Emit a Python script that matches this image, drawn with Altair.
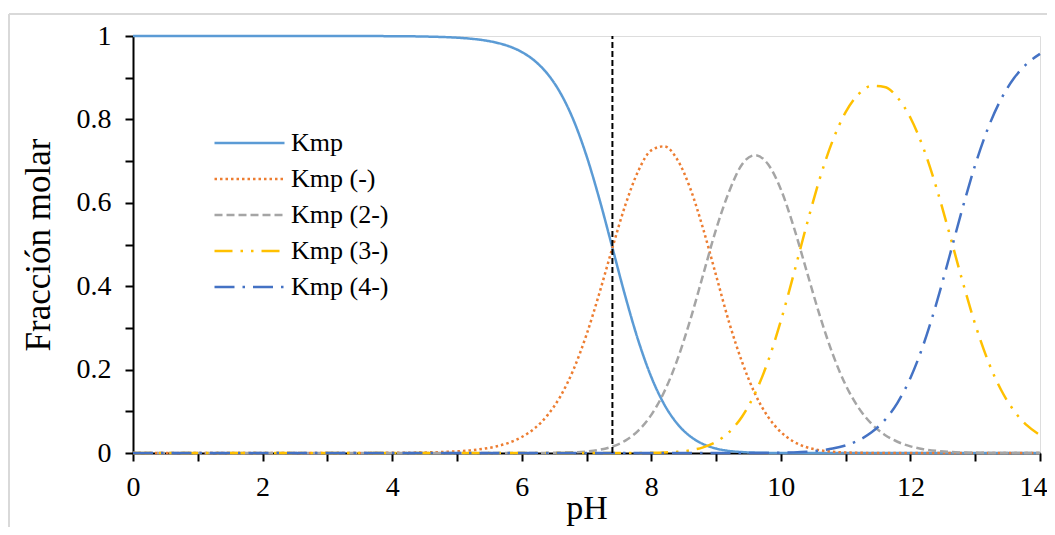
import altair as alt
import pandas as pd

# ---- data ----
ph = [0, 1, 2, 3, 4, 4.5,
      5.0, 5.2, 5.4, 5.6, 5.8, 6.0, 6.2, 6.4, 6.6, 6.8,
      7.0, 7.2, 7.4, 7.6, 7.8, 8.0, 8.2, 8.4, 8.6, 8.8,
      9.0, 9.2, 9.4, 9.6, 9.8, 10.0, 10.2, 10.4, 10.6, 10.8,
      11.0, 11.2, 11.4, 11.6, 11.8, 12.0, 12.2, 12.4, 12.6, 12.8,
      13.0, 13.2, 13.4, 13.6, 13.8, 14.0]

kmp = [1.0, 1.0, 1.0, 1.0, 0.9996, 0.9987,
       0.9960, 0.9937, 0.9901, 0.9844, 0.9755, 0.9617, 0.9405, 0.9088, 0.8626, 0.7980,
       0.7127, 0.6084, 0.4922, 0.3753, 0.2694, 0.1823, 0.1166, 0.0704, 0.0401, 0.0214,
       0.0107, 0.0050, 0.0022, 0.0009, 0.0003, 0.0001, 0, 0, 0, 0,
       0, 0, 0, 0, 0, 0, 0, 0, 0, 0,
       0, 0, 0, 0, 0, 0]

kmp_1 = [0, 0, 0, 0, 0.0004, 0.0013,
         0.0040, 0.0063, 0.0099, 0.0156, 0.0245, 0.0383, 0.0593, 0.0909, 0.1367, 0.2004,
         0.2837, 0.3839, 0.4922, 0.5948, 0.6767, 0.7258, 0.7355, 0.7041, 0.6352, 0.5379,
         0.4260, 0.3139, 0.2188, 0.1425, 0.0872, 0.0502, 0.0271, 0.0138, 0.0066, 0.0030,
         0.0013, 0.0005, 0.0002, 0.0001, 0, 0, 0, 0, 0, 0,
         0, 0, 0, 0, 0, 0]

kmp_2 = [0, 0, 0, 0, 0, 0,
         0, 0, 0, 0, 0, 0.0000, 0.0001, 0.0003, 0.0007, 0.0016,
         0.0036, 0.0077, 0.0156, 0.0298, 0.0538, 0.0914, 0.1468, 0.2227, 0.3184, 0.4272,
         0.5364, 0.6264, 0.6919, 0.7141, 0.6930, 0.6322, 0.5414, 0.4354, 0.3299, 0.2373,
         0.1631, 0.1083, 0.0699, 0.0440, 0.0270, 0.0160, 0.0092, 0.0051, 0.0026, 0.0013,
         0.0006, 0.0003, 0.0001, 0, 0, 0]

kmp_3 = [0, 0, 0, 0, 0, 0,
         0, 0, 0, 0, 0, 0, 0, 0, 0, 0,
         0, 0, 0, 0.0001, 0.0002, 0.0005, 0.0012, 0.0028, 0.0064, 0.0135,
         0.0269, 0.0498, 0.0871, 0.1425, 0.2191, 0.3168, 0.4300, 0.5479, 0.6576, 0.7491,
         0.8173, 0.8606, 0.8803, 0.8777, 0.8526, 0.8040, 0.7313, 0.6368, 0.5274, 0.4140,
         0.3086, 0.2198, 0.1510, 0.1009, 0.0661, 0.0428]

kmp_4 = [0, 0, 0, 0, 0, 0,
         0, 0, 0, 0, 0, 0, 0, 0, 0, 0,
         0, 0, 0, 0, 0, 0, 0, 0, 0, 0,
         0, 0, 0, 0.0001, 0.0003, 0.0007, 0.0015, 0.0031, 0.0059, 0.0106,
         0.0183, 0.0305, 0.0495, 0.0782, 0.1204, 0.1800, 0.2595, 0.3581, 0.4700, 0.5847,
         0.6908, 0.7799, 0.8489, 0.8991, 0.9339, 0.9572]

series_names = ["Kmp", "Kmp (-)", "Kmp (2-)", "Kmp (3-)", "Kmp (4-)"]
series_values = [kmp, kmp_1, kmp_2, kmp_3, kmp_4]
series_colors = ["#5B9BD5", "#ED7D31", "#A5A5A5", "#FFC000", "#4472C4"]
series_dashes = [[1, 0], [2.5, 3], [8, 4], [18, 8, 2.5, 8, 2.5, 8], [20, 8, 2.5, 8]]

ref_ph = [7.4]          # vertical dashed reference line
x_ticks = list(range(0, 15))
y_ticks = [0, 0.1, 0.2, 0.3, 0.4, 0.5, 0.6, 0.7, 0.8, 0.9, 1.0]

# ---- build long table ----
rows = []
for name, vals in zip(series_names, series_values):
    for i, (x, v) in enumerate(zip(ph, vals)):
        rows.append({"pH": x, "frac": v, "serie": name, "idx": i})
df = pd.DataFrame(rows)
ref_df = pd.DataFrame({"pH": ref_ph, "y0": [0.0], "y1": [1.0]})

FONT = "Liberation Serif"

legend_cfg = alt.Legend(
    title=None, orient="none", legendX=80, legendY=90,
    symbolType="stroke", symbolSize=4900, symbolStrokeWidth=2.5,
    clipHeight=34, rowPadding=2, labelOffset=5,
    labelFont=FONT, labelFontSize=26, labelColor="black", labelLimit=0,
)

x_enc = alt.X("pH:Q", title="pH",
              scale=alt.Scale(domain=[0, 14], nice=False, zero=False),
              axis=alt.Axis(values=x_ticks, format="d",
                            labelExpr="datum.value % 2 == 0 ? datum.label : ''",
                            labelFlush=False,
                            labelAlign={"condition": {"test": "datum.value >= 14", "value": "right"},
                                        "value": "center"},
                            labelOffset={"condition": {"test": "datum.value >= 14", "value": 7},
                                         "value": 0},
                            grid=False, labelFont=FONT, labelFontSize=28,
                            labelColor="black", labelPadding=12,
                            domainColor="black", domainWidth=2,
                            tickColor="black", tickWidth=2, tickSize=8,
                            titleFont=FONT, titleFontSize=34, titleFontWeight="normal",
                            titleColor="black", titlePadding=-10))
y_enc = alt.Y("frac:Q", title="Fracción molar",
              scale=alt.Scale(domain=[0, 1], nice=False),
              axis=alt.Axis(values=y_ticks, format="~g",
                            labelExpr="round(datum.value * 10) % 2 == 0 ? datum.label : ''",
                            labelFlush=False,
                            grid=False, labelFont=FONT, labelFontSize=28,
                            labelColor="black", labelPadding=14,
                            domainColor="black", domainWidth=2,
                            tickColor="black", tickWidth=2, tickSize=8,
                            titleFont=FONT, titleFontSize=35, titleFontWeight="normal",
                            titleColor="black", titlePadding=20))

lines = alt.Chart(df).mark_line(strokeWidth=2.5, interpolate="monotone").encode(
    x=x_enc,
    y=y_enc,
    color=alt.Color("serie:N", sort=series_names,
                    scale=alt.Scale(domain=series_names, range=series_colors),
                    legend=legend_cfg),
    strokeDash=alt.StrokeDash("serie:N", sort=series_names,
                              scale=alt.Scale(domain=series_names, range=series_dashes),
                              legend=legend_cfg),
    order="idx:Q",
)

ref_line = alt.Chart(ref_df).mark_rule(color="black", strokeWidth=2, strokeDash=[6, 3]).encode(
    x="pH:Q", y="y0:Q", y2="y1:Q"
)

# light grey chart-area frame (decoration)
frame_top = alt.Chart(ref_df).mark_rule(color="#D9D9D9", strokeWidth=2).encode(
    x=alt.value(-124), x2=alt.value(1000), y=alt.value(-22)
)
frame_left = alt.Chart(ref_df).mark_rule(color="#D9D9D9", strokeWidth=2).encode(
    x=alt.value(-124), y=alt.value(-22), y2=alt.value(600)
)

chart = alt.layer(frame_top, frame_left, lines, ref_line).properties(
    width=907, height=417,
    autosize=alt.AutoSizeParams(type="none"),
    padding={"left": 125, "top": 28, "right": 7, "bottom": 74},
).configure_view(stroke=None).configure(
    font=FONT, background="white"
).configure_legend(
    labelFont=FONT, labelFontSize=26, labelColor="black"
).configure_axis(
    labelFont=FONT, titleFont=FONT
)

chart.save("out.html", embed_options={"renderer": "svg", "actions": False})
